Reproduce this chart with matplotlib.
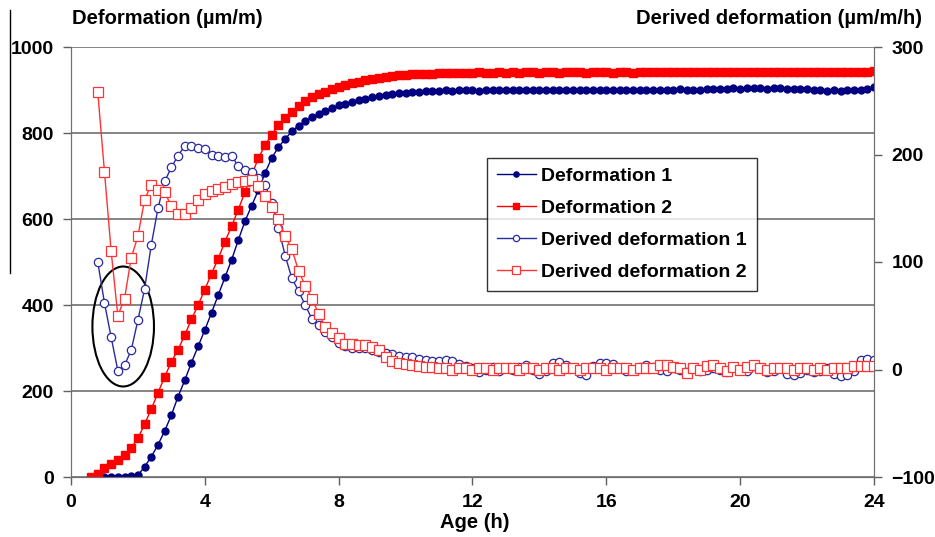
import numpy as np
import matplotlib.pyplot as plt
from matplotlib.patches import Ellipse
from matplotlib.lines import Line2D

plt.rcParams['font.family'] = ['Liberation Sans', 'DejaVu Sans']
plt.rcParams['font.weight'] = 'bold'

# Age (h): readings every 0.2 h from 0.6 h to 24 h
age = np.round(np.arange(0.6, 24.01, 0.2), 1)

# Deformation (µm/m), left axis
deformation_1 = [
    np.nan, np.nan, 1, 1, 1, 1, 2, 4, 24, 47,
    75, 107, 144, 187, 225, 266, 304, 342, 382, 423,
    464, 505, 551, 595, 631, 667, 707, 742, 767, 786,
    804, 817, 828, 837, 844, 852, 857, 864, 868, 872,
    877, 880, 884, 887, 889, 891, 892, 894, 895, 896,
    897, 898,
    898, 899, 898, 899, 900, 899, 898, 900, 899, 900, 899,
    900, 899, 901, 900, 899, 900, 901, 900, 899, 900,
    900, 899, 900, 901, 900, 900, 899, 900, 901, 900,
    900, 901, 900, 900, 901, 902, 901, 900, 901, 902,
    903, 902, 903, 904, 903, 904, 905, 904, 903, 904,
    905, 903, 902, 903, 902, 901, 899, 898, 899, 898,
    899, 900, 901, 903, 907,
]
deformation_2 = [
    0, 8, 20, 31, 40, 52, 68, 90, 123, 158,
    196, 233, 268, 296, 330, 367, 400, 436, 473, 508,
    547, 583, 622, 663, 703, 741, 772, 796, 819, 836,
    850, 863, 875, 884, 890, 895, 903, 908, 912, 916,
    919, 923, 926, 929, 931, 933, 935, 936, 937, 937,
    938, 938,
    939, 939, 940, 939, 940, 940, 941, 940, 940, 941, 940,
    941, 940, 941, 941, 940, 941, 941, 940, 941, 941,
    941, 940, 941, 941, 941, 940, 941, 941, 940, 941,
    941, 941, 942, 943, 942, 941, 943, 943, 942, 943,
    943, 942, 943, 943, 943, 942, 943, 943, 943, 942,
    943, 943, 943, 942, 943, 943, 942, 941, 942, 943,
    943, 943, 943, 943, 944,
]

# Derived deformation (µm/m/h), right axis
derived_1 = [
    np.nan, 100, 62, 30, -1, 4, 18, 46, 75, 116,
    150, 175, 188, 199, 208, 208, 206, 205, 200, 199,
    198, 199, 189, 186, 184, 178, 172, 155, 132, 106,
    85, 73, 60, 47, 41, 35, 30, 25, 22, 20,
    20, 20, 18, 16, 15, 14, 13, 12, 12, 10,
    9, 8,
    8, 9, 8, 5, 3, 1, -2, 0, 2, -1, 1,
    0, 2, 4, 0, -4, -1, 6, 7, 4, 1,
    -3, -5, 3, 6, 6, 5, 1, -1, 0, 2,
    4, 2, 0, -1, 1, 0, -2, 1, -1, 0,
    1, 0, -2, 2, 0, -1, 3, 1, -2, -1,
    1, -4, -5, -3, 0, -2, -1, 1, -4, -6,
    -5, -1, 9, 10, 9,
]
derived_2 = [
    np.nan, 258, 184, 110, 50, 66, 104, 124, 158, 172,
    167, 165, 152, 145, 145, 150, 158, 163, 166, 168,
    170, 173, 174, 175, 176, 171, 161, 151, 140, 124,
    112, 92, 78, 66, 52, 40, 34, 29, 24, 24,
    23, 23, 21, 18, 12, 8, 6, 5, 4, 3,
    2, 2,
    1, 1, 0, 1, 1, 0, 1, 1, 0, 1, 1,
    1, 0, 1, 1, 0, 1, 1, 0, 1, 1,
    0, 1, 1, 1, 0, 1, 1, 1, 0, 1,
    1, 1, 4, 4, 2, 1, -3, 1, 0, 3,
    4, 1, -1, 2, 0, 2, 4, 1, 0, 1,
    1, 1, 0, 1, 1, 0, 1, 0, 1, 1,
    1, 3, 3, 3, 3,
]

fig = plt.figure(figsize=(9.35, 5.37), dpi=100)
ax = fig.add_axes([71 / 935, 1 - 477 / 537, 803 / 935, 430 / 537])
ax2 = ax.twinx()

navy = '#000080'
blue = '#2a2aa0'
red = '#ff0000'
lred = '#ff3333'

h1, = ax.plot(age, deformation_1, '-', color=navy, lw=1, marker='o', ms=5,
              mfc=navy, mec=navy, label='Deformation 1')
h2, = ax.plot(age, deformation_2, '-', color=red, lw=1, marker='s', ms=6.3,
              mfc=red, mec=red, label='Deformation 2', zorder=3)
h3, = ax2.plot(age, derived_1, '-', color=blue, lw=1, marker='o', ms=6,
               mfc='white', mec=blue, mew=0.9, label='Derived deformation 1')
h4, = ax2.plot(age, derived_2, '-', color=lred, lw=1, marker='s', ms=7,
               mfc='white', mec=lred, mew=0.9, label='Derived deformation 2')

ax.add_patch(Ellipse((1.56, 350), 1.84, 279, fill=False, ec='black', lw=1.5, zorder=5))

ax.set_xlim(0, 24)
ax.set_ylim(0, 1000)
ax2.set_ylim(-100, 300)
ax.set_xticks(range(0, 25, 4))
ax.set_yticks(range(0, 1001, 200))
ax2.set_yticks(range(-100, 301, 100))
ax.yaxis.grid(True, color='#707070', lw=1.2)
ax.set_axisbelow(True)

for a in (ax, ax2):
    for s in a.spines.values():
        s.set_color('#707070')
    a.spines['top'].set_visible(False)
    a.tick_params(colors='#606060', labelcolor='black', labelsize=14, length=5.5, width=1, pad=7)

fig.text(72 / 935, 1 - 18 / 537, 'Deformation (µm/m)', fontsize=14.5, fontweight='bold', va='center')
fig.text(922 / 935, 1 - 18 / 537, 'Derived deformation (µm/m/h)', fontsize=14.5, fontweight='bold',
         va='center', ha='right')
fig.text(475 / 935, 1 - 522 / 537, 'Age (h)', fontsize=14.5, fontweight='bold', va='center', ha='center')

fig.add_artist(Line2D([9.5 / 935, 9.5 / 935], [1 - 10 / 537, 1 - 273 / 537], color='black', lw=1))

leg = ax2.legend(handles=[h1, h2, h3, h4], loc='upper left', bbox_to_anchor=(0.518, 0.742),
                 fontsize=14, frameon=True, fancybox=False, edgecolor='black',
                 handlelength=2.0, handletextpad=0.3, labelspacing=0.74, borderpad=0.5,
                 borderaxespad=0, markerscale=0.75)
leg.get_frame().set_linewidth(1)

fig.savefig('out.png', dpi=100)
